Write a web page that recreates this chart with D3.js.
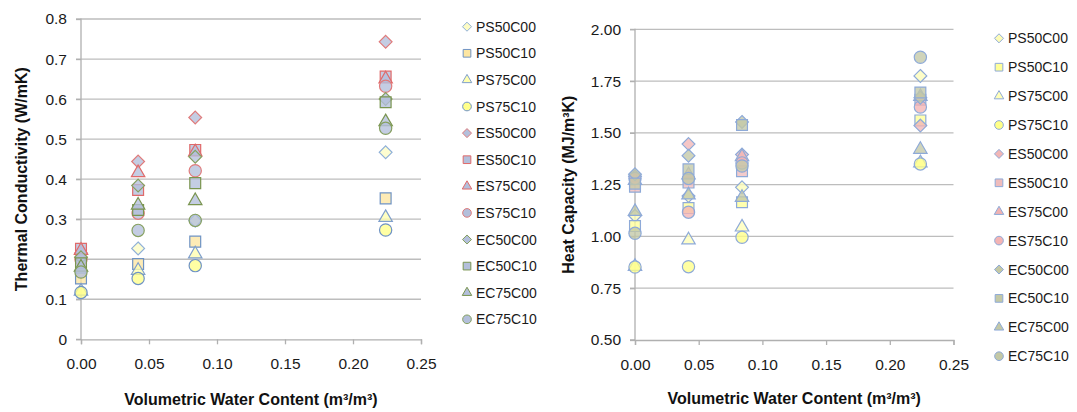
<!DOCTYPE html>
<html><head><meta charset="utf-8">
<script src="https://cdn.jsdelivr.net/npm/d3@7"></script>
<style>
body{margin:0;background:#fff;}
svg{display:block;font-family:"Liberation Sans",Arial,sans-serif;}
</style>
</head><body>
<svg id="c" width="1077" height="412"></svg>
<script>
// ---------------- DATA ----------------
const xValues = [0, 0.042, 0.084, 0.224];
const seriesNames = ["PS50C00","PS50C10","PS75C00","PS75C10","ES50C00","ES50C10","ES75C00","ES75C10","EC50C00","EC50C10","EC75C00","EC75C10"];
// Thermal conductivity (W/mK), one row per series, one value per water content
const thermalConductivity = [
  [0.170, 0.227, 0.296, 0.467],
  [0.152, 0.188, 0.244, 0.352],
  [0.120, 0.172, 0.213, 0.304],
  [0.117, 0.152, 0.184, 0.273],
  [0.215, 0.444, 0.554, 0.743],
  [0.226, 0.373, 0.473, 0.656],
  [0.222, 0.416, 0.468, 0.650],
  [0.200, 0.315, 0.421, 0.632],
  [0.205, 0.384, 0.456, 0.600],
  [0.190, 0.323, 0.390, 0.592],
  [0.180, 0.335, 0.346, 0.543],
  [0.168, 0.272, 0.297, 0.527]
];
// Heat capacity (MJ/m3K)
const heatCapacity = [
  [1.100, 1.195, 1.237, 1.775],
  [1.050, 1.137, 1.165, 1.560],
  [0.855, 0.983, 1.045, 1.355],
  [0.852, 0.854, 0.996, 1.350],
  [1.290, 1.446, 1.395, 1.535],
  [1.240, 1.260, 1.315, 1.660],
  [1.270, 1.297, 1.385, 1.675],
  [1.280, 1.117, 1.355, 1.625],
  [1.300, 1.390, 1.553, 1.670],
  [1.255, 1.324, 1.538, 1.695],
  [1.120, 1.200, 1.188, 1.420],
  [1.015, 1.280, 1.340, 1.865]
];
const xTicks = [0, 0.05, 0.10, 0.15, 0.20, 0.25];
const tcTicks = [0, 0.1, 0.2, 0.3, 0.4, 0.5, 0.6, 0.7, 0.8];
const hcTicks = [0.50, 0.75, 1.00, 1.25, 1.50, 1.75, 2.00];

// ---------------- STYLES ----------------
const shapes = ["diamond","square","triangle","circle","diamond","square","triangle","circle","diamond","square","triangle","circle"];
const leftFill = ["#fdfcc4","#fde6a2","#ffffb0","#ffff8a","#b3bfdb","#b3bfdb","#b3bfdb","#b3bfdb","#b3bfdb","#b3bfdb","#b3bfdb","#b3bfdb"];
const leftStroke = ["#8fb0d8","#6f93c4","#7f9fcc","#6f93c4","#e07b7b","#e06a6a","#e06a6a","#e07b7b","#86a060","#7a9550","#7a9550","#86a060"];
const rightFill = ["#fdfcb8","#ffff99","#ffffb8","#ffff88","#f2b6b6","#efbcbc","#f0b3b3","#f4b4b4","#c3c8a6","#c3c8a6","#c3c8a6","#c3c8a6"];
const rightStroke = "#8eaad8";

const diamondType = {draw(ctx, size){const r=Math.sqrt(size/2);ctx.moveTo(0,-r);ctx.lineTo(r,0);ctx.lineTo(0,r);ctx.lineTo(-r,0);ctx.closePath();}};
const symTypes = {diamond: diamondType, square: d3.symbolSquare, triangle: d3.symbolTriangle, circle: d3.symbolCircle};
const symSizes = {diamond: 82, square: 118, triangle: 78, circle: 118};

const svg = d3.select("#c");

function fitText(sel, w){
  const node = sel.node();
  const len = node.getComputedTextLength();
  if (len > w) sel.attr("textLength", w).attr("lengthAdjust", "spacingAndGlyphs");
}

function drawChart(o){
  const g = svg.append("g");
  const x = d3.scaleLinear().domain([0, 0.25]).range([o.left, o.right]);
  const y = d3.scaleLinear().domain(o.yDomain).range([o.bottom, o.top]);

  // gridlines
  g.append("g").selectAll("line").data(o.yTicks.filter(t => t !== o.yDomain[0])).join("line")
    .attr("x1", o.left - 5).attr("x2", o.right)
    .attr("y1", d => y(d)).attr("y2", d => y(d))
    .attr("stroke", "#bdbdbd").attr("stroke-width", 1.3);

  // axes via d3
  const yAxis = d3.axisLeft(y).tickValues(o.yTicks).tickFormat(o.yFmt).tickSize(5).tickPadding(9);
  const gy = g.append("g").attr("transform", `translate(${o.left},0)`).call(yAxis);
  const xAxis = d3.axisBottom(x).tickValues(xTicks).tickFormat(d3.format(".2f")).tickSize(5).tickPadding(14);
  const gx = g.append("g").attr("transform", `translate(0,${o.bottom})`).call(xAxis);
  [gx, gy].forEach(a => {
    a.select(".domain").attr("stroke", "#b0b0b0").attr("stroke-width", 1.3);
    a.selectAll(".tick line").attr("stroke", "#b0b0b0").attr("stroke-width", 1.3);
    a.selectAll(".tick text").attr("fill", "#1a1a1a").style("font-size", "15.5px").style("font-family", '"Liberation Sans",Arial,sans-serif');
  });
  gy.select(".domain").attr("d", `M-5,${o.bottom}H0V${o.top - 0.5}`);

  // markers
  const series = o.values.map((vals, i) => ({i, pts: vals.map((v, j) => ({x: xValues[j], y: v}))}));
  const sg = g.append("g").selectAll("g").data(series).join("g");
  sg.selectAll("path").data(d => d.pts.map(p => ({...p, i: d.i}))).join("path")
    .attr("transform", d => `translate(${x(d.x)},${y(d.y)})`)
    .attr("d", d => d3.symbol(symTypes[shapes[d.i]], symSizes[shapes[d.i]])())
    .attr("fill", d => o.fill[d.i]).attr("fill-opacity", 0.78)
    .attr("stroke", d => o.stroke(d.i)).attr("stroke-width", 1.2);

  // axis titles
  const xt = g.append("text").attr("x", (o.left + o.right) / 2).attr("y", o.xTitleY)
    .attr("text-anchor", "middle").attr("font-weight", "bold").attr("font-size", 16).attr("fill", "#111")
    .text("Volumetric Water Content (m³/m³)");
  fitText(xt, 266);
  const yt = g.append("text").attr("transform", `translate(${o.yTitleX},${(o.top + o.bottom) / 2}) rotate(-90)`)
    .attr("text-anchor", "middle").attr("font-weight", "bold").attr("font-size", 16).attr("fill", "#111")
    .text(o.yTitle);
  fitText(yt, o.yTitleW);

  // legend
  const lg = g.append("g");
  if (o.legendClip) {
    const id = "clip" + Math.round(o.legendX);
    svg.append("defs").append("clipPath").attr("id", id).append("rect")
      .attr("x", o.legendX - 20).attr("y", 0).attr("width", o.legendClip - o.legendX + 20).attr("height", 412);
    lg.attr("clip-path", `url(#${id})`);
  }
  const items = lg.selectAll("g").data(seriesNames).join("g")
    .attr("transform", (d, i) => `translate(${o.legendX},${o.legendY + i * o.legendStep})`);
  items.append("path")
    .attr("d", (d, i) => d3.symbol(symTypes[shapes[i]], symSizes[shapes[i]] * 0.5)())
    .attr("fill", (d, i) => o.fill[i]).attr("stroke", (d, i) => o.stroke(i)).attr("stroke-width", 1);
  items.append("text").attr("x", 9).attr("y", 5).attr("font-size", 14).attr("fill", "#1a1a1a").text(d => d);
}

drawChart({
  left: 81, right: 421, top: 19, bottom: 339.3,
  yDomain: [0, 0.8], yTicks: tcTicks, yFmt: d => d === 0 ? "0" : d3.format(".1f")(d),
  values: thermalConductivity, fill: leftFill, stroke: i => leftStroke[i],
  xTitleY: 405, yTitleX: 27, yTitle: "Thermal Conductivity (W/mK)", yTitleW: 230,
  legendX: 467, legendY: 26.7, legendStep: 26.6, legendClip: 538
});
drawChart({
  left: 635, right: 953.5, top: 29.3, bottom: 340,
  yDomain: [0.5, 2.0], yTicks: hcTicks, yFmt: d3.format(".2f"),
  values: heatCapacity, fill: rightFill, stroke: i => rightStroke,
  xTitleY: 404, yTitleX: 574, yTitle: "Heat Capacity (MJ/m³K)", yTitleW: 178,
  legendX: 999, legendY: 38.3, legendStep: 28.9, legendClip: null
});
</script>
</body></html>
